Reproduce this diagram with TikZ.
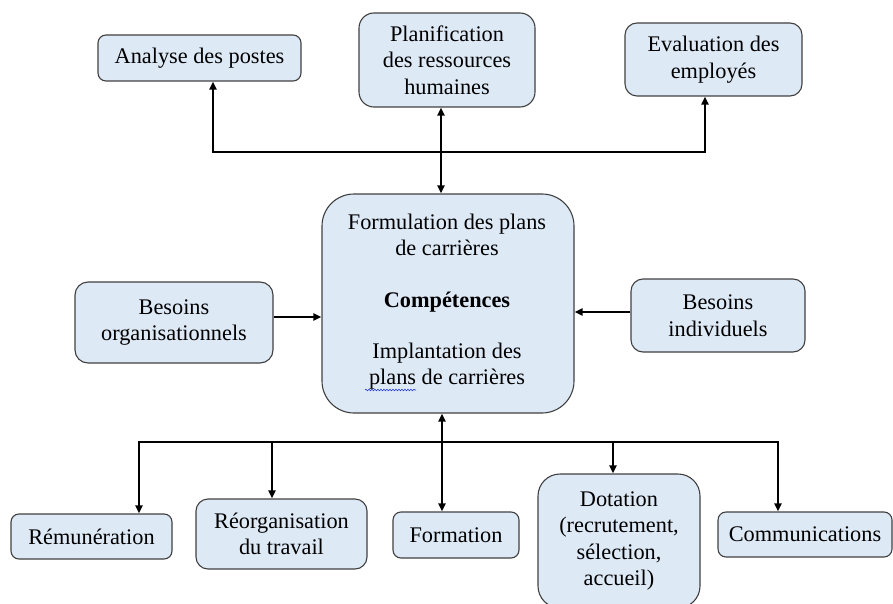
\documentclass[tikz,border=0pt]{standalone}
\usepackage{fontspec}
\setmainfont{Liberation Serif}
\usetikzlibrary{arrows.meta,decorations.pathmorphing}

\definecolor{boxfill}{RGB}{222,233,246}
\definecolor{boxline}{RGB}{64,64,64}
\definecolor{spellblue}{RGB}{40,60,220}

\tikzset{
  txt/.style={font=\fontsize{22.3}{26.5}\selectfont},
  txtbold/.style={font=\fontsize{22.3}{26.5}\selectfont\bfseries},
  box/.style={txt, draw=boxline, line width=1.1pt, fill=boxfill, align=center,
    inner sep=0pt},
  link/.style={line width=2pt, -{Triangle[length=8pt,width=7pt]}},
  dlink/.style={line width=2pt, {Triangle[length=8pt,width=7pt]}-{Triangle[length=8pt,width=7pt]}},
}

\begin{document}
\begin{tikzpicture}[x=1pt,y=-1pt]
\useasboundingbox (0,0) rectangle (893,604);
\clip (0,0) rectangle (893,604);

% upper row
\node[box, minimum width=203pt, minimum height=46pt, rounded corners=8pt]
  (analyse) at (199.5,58) {Analyse des postes};
\node[box, minimum width=176pt, minimum height=94pt, rounded corners=15pt]
  (planif) at (447,60) {Planification\\des ressources\\humaines};
\node[box, minimum width=177pt, minimum height=73pt, rounded corners=12pt]
  (eval) at (713.5,59.5) {Evaluation des\\employés};

% central block
\node[box, minimum width=252pt, minimum height=219pt, rounded corners=32pt]
  (centre) at (448,303.5) {};
\node[txt, align=center] (formul) at (447,235)
  {Formulation des plans\\de carrières};
\node[txtbold] (compet) at (447,302) {Compétences};
\node[txt, align=center] (implant) at (447,366)
  {Implantation des\\plans de carrières};
\draw[spellblue, line width=0.6pt, decorate,
  decoration={snake, amplitude=0.8pt, segment length=3pt}]
  (365,390) -- (416,390);

% side needs
\node[box, minimum width=198pt, minimum height=81pt, rounded corners=13pt]
  (borg) at (174,322.5) {Besoins\\organisationnels};
\node[box, minimum width=174pt, minimum height=73pt, rounded corners=12pt]
  (bind) at (718,315.5) {Besoins\\individuels};

% lower row
\node[box, minimum width=161pt, minimum height=45pt, rounded corners=8pt]
  (remu) at (91.5,536.5) {Rémunération};
\node[box, minimum width=171pt, minimum height=70pt, rounded corners=12pt]
  (reorg) at (281.5,534) {Réorganisation\\du travail};
\node[box, minimum width=126pt, minimum height=46pt, rounded corners=8pt]
  (forma) at (456,535) {Formation};
\node[box, minimum width=162pt, minimum height=134pt, rounded corners=22pt]
  (dota) at (619,541) {Dotation\\(recrutement,\\sélection,\\accueil)};
\node[box, minimum width=174pt, minimum height=45pt, rounded corners=8pt]
  (comm) at (805,534.5) {Communications};

% reference coordinates for the connectors
\coordinate (tophub) at (441,152);
\coordinate (xana) at (213,0);
\coordinate (xeva) at (705,0);
\coordinate (xpla) at (441,0);
\coordinate (ylef) at (0,317);
\coordinate (yrig) at (0,312);
\coordinate (bothub) at (442,442);
\coordinate (xrem) at (139,0);
\coordinate (xreo) at (272,0);
\coordinate (xdot) at (613,0);
\coordinate (xcom) at (778,0);

% upper connectors
\draw[dlink] (planif.south -| xpla) -- (centre.north -| xpla);
\draw[link] (tophub) -| (analyse.south -| xana);
\draw[link] (tophub) -| (eval.south -| xeva);

% side connectors
\draw[link] (borg.east |- ylef) -- (centre.west |- ylef);
\draw[link] (bind.west |- yrig) -- (centre.east |- yrig);

% lower connectors
\draw[dlink] (centre.south -| bothub) -- (forma.north -| bothub);
\draw[link] (bothub) -| (remu.north -| xrem);
\draw[link] (bothub) -| (comm.north -| xcom);
\draw[link] (bothub -| xreo) -- (reorg.north -| xreo);
\draw[link] (bothub -| xdot) -- (dota.north -| xdot);
\end{tikzpicture}
\end{document}
